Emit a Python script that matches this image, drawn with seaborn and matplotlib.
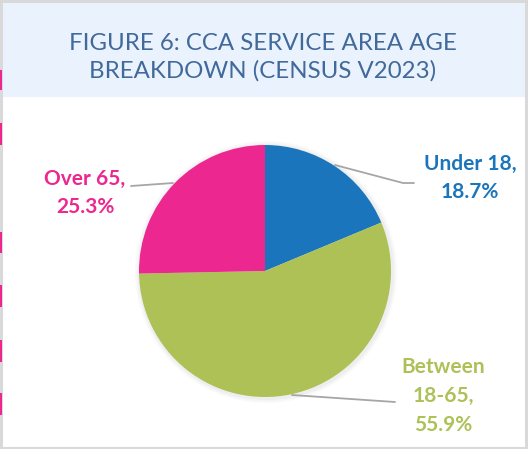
import matplotlib
matplotlib.use("Agg")
import matplotlib.pyplot as plt
import seaborn as sns
from matplotlib.patches import Rectangle, Circle

# ---- data ----
categories = ["Under 18", "Between\n18-65", "Over 65"]
shares = [18.7, 55.9, 25.3]
slice_colors = ["#1B75BC", "#ADC157", "#EC2890"]
title = "FIGURE 6: CCA SERVICE AREA AGE\nBREAKDOWN (CENSUS V2023)"

sns.set_theme(style="white")
plt.rcParams["font.family"] = ["Lato", "DejaVu Sans"]

W, H = 528, 449
fig = plt.figure(figsize=(W / 100, H / 100), dpi=100)
ax = fig.add_axes([0, 0, 1, 1])

# pixel helper: y measured from top
def py(y):
    return H - y

# frame + title band
ax.add_patch(Rectangle((1, 1), W - 3, H - 2, facecolor="white",
                       edgecolor="#D9D9D9", lw=2.2, zorder=0))
ax.add_patch(Rectangle((3, py(97)), W - 6, 94, facecolor="#EAF3FD",
                       edgecolor="none", zorder=1))
ax.text(263, py(57), title, ha="center", va="center", fontsize=17.3,
        color="#41699A", linespacing=1.35, zorder=2)

# pink marks along the left edge
for y0, y1 in [(70, 90), (123, 145), (232, 253), (285, 307), (340, 362), (393, 415)]:
    ax.add_patch(Rectangle((0, py(y1)), 2.2, y1 - y0, facecolor="#EC2890",
                           edgecolor="none", zorder=3))

# soft shadow under the pie
cx, cy, r = 265, py(271), 126
for k, a in [(5, 0.03), (3.5, 0.04), (2, 0.06)]:
    ax.add_patch(Circle((cx + 1, cy - 1), r + k, facecolor="#7F7F7F",
                        edgecolor="none", alpha=a, zorder=2))

sns_palette = sns.color_palette(slice_colors)
ax.pie(shares, colors=sns_palette, startangle=90, counterclock=False,
       center=(cx, cy), radius=r, wedgeprops=dict(linewidth=0), frame=True)
for w in ax.patches[-3:]:
    w.set_zorder(4)

# leader lines
lead = "#A6A6A6"
ax.plot([335, 403, 414], [py(165), py(183), py(183)], color=lead, lw=1.3, zorder=3)
ax.plot([131, 173], [py(186), py(183)], color=lead, lw=1.3, zorder=3)
ax.plot([292, 395], [py(395), py(402)], color=lead, lw=1.3, zorder=3)

# data labels
label_pos = [(470, 178), (443, 396), (85, 193)]
for cat, val, col, (lx, ly) in zip(categories, shares, slice_colors, label_pos):
    ax.text(lx, py(ly), f"{cat},\n{val}%", ha="center", va="center",
            fontsize=15, fontweight="bold", color=col, linespacing=1.55, zorder=5)

ax.set_xlim(0, W)
ax.set_ylim(0, H)
ax.set_aspect("auto")
ax.axis("off")

fig.savefig("out.png", dpi=100)
